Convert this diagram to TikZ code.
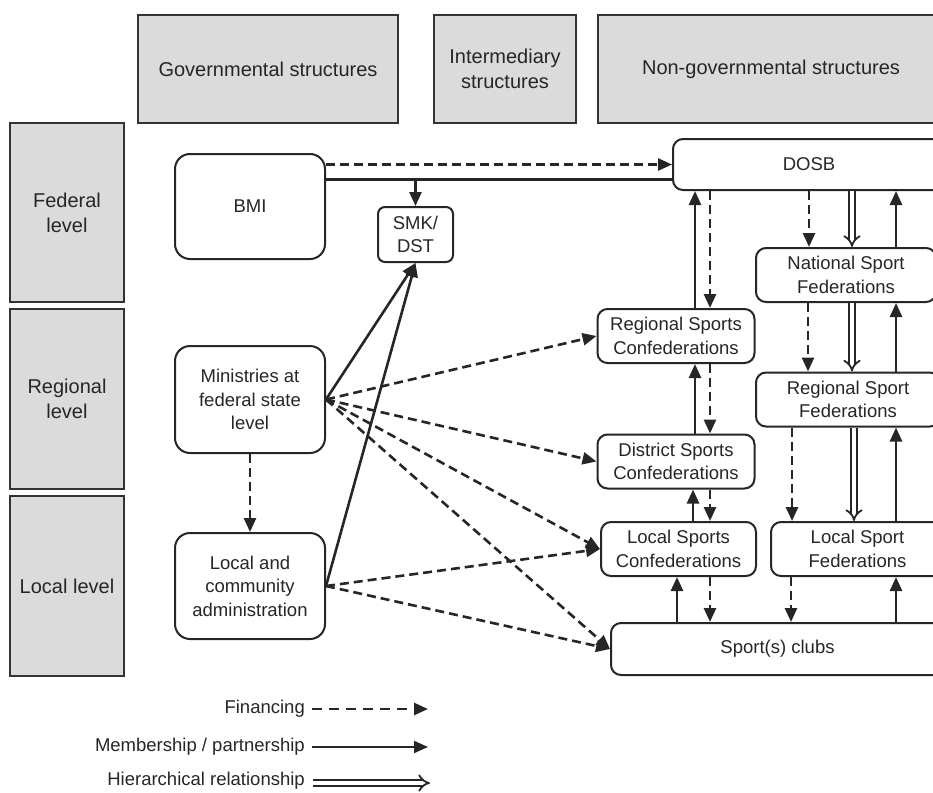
\documentclass[tikz,border=0pt]{standalone}
\usepackage{fontspec}
\setmainfont{Liberation Sans}
\usetikzlibrary{arrows.meta, positioning, calc}

\begin{document}
\begin{tikzpicture}[x=1pt, y=-1pt,
  hdr/.style={rectangle, draw=black!80, line width=1.6pt, fill=black!14, inner sep=0pt,
              align=center, text=black!85, font=\fontsize{20}{25}\selectfont},
  org/.style={rectangle, rounded corners=10pt, draw=black!85, line width=2pt, fill=white,
              inner sep=0pt, align=center, text=black!85, font=\fontsize{18.5}{23.5}\selectfont},
  fin/.style={-{Triangle[length=14pt, width=12pt]}, line width=2.6pt, black!85, dash pattern=on 9pt off 5pt},
  mem/.style={-{Triangle[length=14pt, width=12pt]}, line width=2.6pt, black!85},
  hier/.style={-{Implies[scale=1.5]}, double=white, double distance=4pt, line width=1.8pt, black!85},
  key/.style={font=\fontsize{18.5}{22}\selectfont, text=black!85, inner sep=0pt, anchor=east}
]
\useasboundingbox (0,0) rectangle (933,792);
\clip (0,0) rectangle (933,792);

% column and level headers
\node[hdr, minimum width=260pt, minimum height=108pt] (hgov) at (268,69) {Governmental structures};
\node[hdr, minimum width=142pt, minimum height=108pt] (hint) at (505,69) {Intermediary\\structures};
\node[hdr, minimum width=346pt, minimum height=108pt] (hnon) at (771,69) {Non-governmental structures};
\node[hdr, minimum width=114pt, minimum height=179pt] (lfed) at (67,212.5) {Federal\\level};
\node[hdr, minimum width=114pt, minimum height=180pt] (lreg) at (67,399) {Regional\\level};
\node[hdr, minimum width=114pt, minimum height=180pt] (lloc) at (67,586) {Local level};

% organisations
\node[org, minimum width=150pt, minimum height=105pt, rounded corners=15pt] (bmi) at (250,206.5) {BMI};
\node[org, minimum width=75pt, minimum height=55pt, rounded corners=7pt] (smk) at (415.5,234.5) {SMK/\\DST};
\node[org, minimum width=272pt, minimum height=51pt] (dosb) at (809,164.5) {DOSB};
\node[org, minimum width=150pt, minimum height=107pt, rounded corners=15pt] (min) at (250,399.5)
  {Ministries at\\federal state\\level};
\node[org, minimum width=150pt, minimum height=106pt, rounded corners=15pt] (loc) at (250,586)
  {Local and\\community\\administration};
\node[org, minimum width=157pt, minimum height=54pt] (rsc) at (676,336) {Regional Sports\\Confederations};
\node[org, minimum width=157pt, minimum height=54pt] (dsc) at (676,461.5) {District Sports\\Confederations};
\node[org, minimum width=155pt, minimum height=54pt] (lsc) at (678.5,549) {Local Sports\\Confederations};
\node[org, minimum width=333pt, minimum height=52pt] (clubs) at (777.5,649) {Sport(s) clubs};
\node[org, minimum width=180pt, minimum height=54pt] (nsf) at (846,275) {National Sport\\Federations};
\node[org, minimum width=184pt, minimum height=54pt] (rsf) at (848,399.5) {Regional Sport\\Federations};
\node[org, minimum width=173pt, minimum height=54pt] (lsf) at (857.5,549) {Local Sport\\Federations};

% federal government links
\coordinate (bmiout) at ($(bmi.north east)!.25!(bmi.south east)$);
\draw[fin] (bmi.east |- dosb.west) -- (dosb.west);
\draw[line width=2.6pt, black!85] (bmiout) -- (bmiout -| dosb.west);
\draw[mem] (bmiout -| smk.north) -- (smk.north);

% regional and local government links
\draw[mem] (min.east) -- (smk.south);
\draw[mem] (loc.east) -- (smk.south);
\draw[fin] (min.south) -- (loc.north);
\foreach \t in {rsc.west, dsc.west, lsc.west, clubs.west}
  \draw[fin] (min.east) -- (\t);
\foreach \t in {lsc.west, clubs.west}
  \draw[fin] (loc.east) -- (\t);

% sport organisation links
\foreach \x/\a/\b in {695/rsc.north/dosb.south, 896/nsf.north/dosb.south, 896/rsf.north/nsf.south,
                      695/dsc.north/rsc.south, 896/lsf.north/rsf.south, 693/lsc.north/dsc.south,
                      677/clubs.north/lsc.south, 896/clubs.north/lsf.south}
  \draw[mem] (\a -| \x,0) -- (\b -| \x,0);
\foreach \x/\a/\b in {710/dosb.south/rsc.north, 809/dosb.south/nsf.north, 808/nsf.south/rsf.north,
                      710/rsc.south/dsc.north, 792/rsf.south/lsf.north, 710/dsc.south/lsc.north,
                      710/lsc.south/clubs.north, 791/lsf.south/clubs.north}
  \draw[fin] (\a -| \x,0) -- (\b -| \x,0);
\foreach \x/\a/\b in {852/dosb.south/nsf.north, 852/nsf.south/rsf.north, 854/rsf.south/lsf.north}
  \draw[hier] (\a -| \x,0) -- (\b -| \x,0);

% legend
\node[key] (kfin) at (305,709) {Financing};
\node[key] (kmem) at (305,747) {Membership / partnership};
\node[key] (khie) at (305,781) {Hierarchical relationship};
\coordinate (efin) at (428,709);
\coordinate (emem) at (428,747);
\coordinate (ehie) at (430,783);
\draw[fin, dash pattern=on 10pt off 7pt] ([xshift=7pt]kfin.east) -- (efin);
\draw[mem, line width=2pt] ([xshift=7pt]kmem.east) -- (emem);
\draw[hier] ([xshift=8pt]khie.east |- ehie) -- (ehie);
\end{tikzpicture}
\end{document}
